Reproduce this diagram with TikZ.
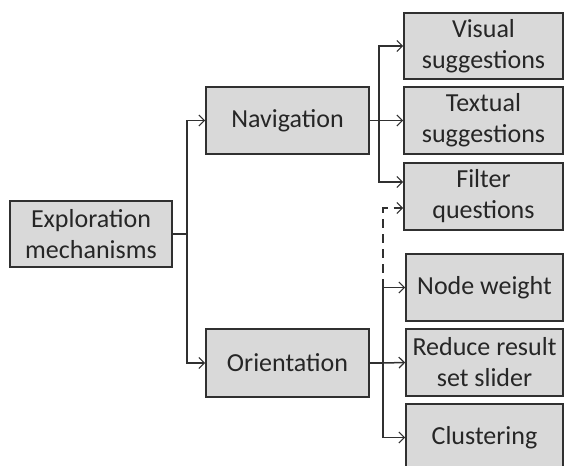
\documentclass[tikz,border=0pt]{standalone}
\usepackage{fontspec}
\setmainfont{Carlito}
\usetikzlibrary{arrows.meta}
\definecolor{boxfill}{HTML}{D9D9D9}
\definecolor{boxline}{HTML}{303030}
\tikzset{
  box/.style={draw=boxline, fill=boxfill, line width=1.6pt, inner sep=0pt,
    align=center, font=\fontsize{26}{31}\selectfont, text=black!85},
  conn/.style={draw=boxline, line width=1.5pt, -{Straight Barb[length=5.5pt,width=11pt,line width=1.2pt]}},
  plain/.style={draw=boxline, line width=1.5pt},
}
\begin{document}
\begin{tikzpicture}[x=1pt,y=-1pt]
\useasboundingbox (0,0) rectangle (566,466);
\node[box, minimum width=162pt, minimum height=66pt] (expl) at (91,234) {Exploration\\mechanisms};
\node[box, minimum width=163pt, minimum height=67pt] (nav) at (287.5,120.5) {Navigation};
\node[box, minimum width=163pt, minimum height=68pt] (ori) at (287.5,363) {Orientation};
\node[box, minimum width=159pt, minimum height=66pt] (vis) at (483.5,46) {Visual\\suggestions};
\node[box, minimum width=159pt, minimum height=67pt] (tex) at (483.5,120.5) {Textual\\suggestions};
\node[box, minimum width=159pt, minimum height=67pt] (fil) at (483.5,196.5) {Filter\\questions};
\node[box, minimum width=157pt, minimum height=67pt] (nod) at (484.5,287.5) {Node weight};
\node[box, minimum width=157pt, minimum height=67pt] (red) at (484.5,362.5) {Reduce result\\set slider};
\node[box, minimum width=157pt, minimum height=67pt] (clu) at (484.5,437.5) {Clustering};
% trunk
\draw[conn] (expl.east) -- ++(14,0) |- (nav.west);
\draw[conn] (expl.east) -- ++(14,0) |- (ori.west);
% navigation branch
\coordinate (nj) at (379,120.5);
\draw[plain] (nav.east) -- (nj);
\draw[conn] (nj) |- (vis.west);
\draw[conn] (nj) -- (tex.west);
\draw[conn] (nj) |- ([yshift=14.5pt]fil.west);
% orientation branch
\coordinate (oj) at (383,363);
\draw[plain] (ori.east) -- (oj);
\draw[conn] (oj) |- (nod.west);
\draw[conn] (oj) -- (red.west);
\draw[conn] (oj) |- (clu.west);
\coordinate (dtop) at (383,287.5);
\draw[conn, dashed, dash pattern=on 9pt off 6pt] (dtop) |- ([yshift=-11.5pt]fil.west);
\end{tikzpicture}
\end{document}
